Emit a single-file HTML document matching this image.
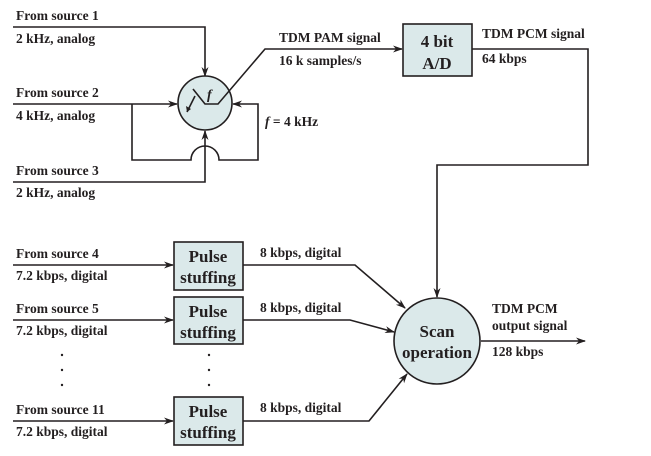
<!DOCTYPE html>
<html><head><style>
body{margin:0;background:#fff;}
svg text{font-family:"Liberation Serif",serif;font-weight:bold;fill:#231f20;}
</style></head><body>
<svg width="651" height="451" viewBox="0 0 651 451" xmlns="http://www.w3.org/2000/svg">
<defs><marker id="a" markerWidth="10" markerHeight="8" refX="9" refY="4" orient="auto" markerUnits="userSpaceOnUse"><path d="M0,0.5 L10,4 L0,7.5 L3,4z" fill="#231f20"/></marker></defs>
<g stroke="#231f20" stroke-width="1.6" fill="none">
<polyline points="13,27 205,27 205,76" marker-end="url(#a)"/>
<polyline points="13,104 177,104" marker-end="url(#a)"/>
<polyline points="13,182 205,182 205,131" marker-end="url(#a)"/>
<path d="M132,104 L132,160 L191,160 A14,14 0 0 1 219,160 L258,160 L258,104 L233,104" marker-end="url(#a)"/>
<circle cx="205" cy="103" r="27" fill="#dbe9ea"/>
<polyline points="193,89 205,104 218,104 265,49 402,49" marker-end="url(#a)"/>
<line x1="195" y1="96" x2="187" y2="112"/>
<rect x="403" y="24" width="69" height="52" fill="#dbe9ea"/>
<polyline points="472,49 588,49 588,165 437,165 437,297" marker-end="url(#a)"/>
<circle cx="437" cy="341" r="43" fill="#dbe9ea"/>
<line x1="481" y1="341" x2="585" y2="341" marker-end="url(#a)"/>
<rect x="174" y="242" width="69" height="48" fill="#dbe9ea"/>
<rect x="174" y="297" width="69" height="47" fill="#dbe9ea"/>
<rect x="174" y="397" width="69" height="48" fill="#dbe9ea"/>
<line x1="13" y1="265" x2="173" y2="265" marker-end="url(#a)"/>
<line x1="13" y1="320" x2="173" y2="320" marker-end="url(#a)"/>
<line x1="13" y1="421" x2="173" y2="421" marker-end="url(#a)"/>
<polyline points="243,265 355,265 405,308" marker-end="url(#a)"/>
<polyline points="243,320 350,320 394,332" marker-end="url(#a)"/>
<polyline points="243,421 369,421 407,374" marker-end="url(#a)"/>
</g>
<path d="M187,112 l-1,-6 l5,3z" fill="#231f20"/>
<text x="207" y="99" font-size="14" font-style="italic">f</text>
<g font-size="13.5">
<text x="16" y="20">From source 1</text>
<text x="16" y="43">2 kHz, analog</text>
<text x="16" y="97">From source 2</text>
<text x="16" y="120">4 kHz, analog</text>
<text x="16" y="175">From source 3</text>
<text x="16" y="197">2 kHz, analog</text>
<text x="279" y="42">TDM PAM signal</text>
<text x="279" y="65">16 k samples/s</text>
<text x="265" y="126"><tspan font-style="italic">f</tspan> = 4 kHz</text>
<text x="482" y="38">TDM PCM signal</text>
<text x="482" y="63">64 kbps</text>
<text x="16" y="258">From source 4</text>
<text x="16" y="280">7.2 kbps, digital</text>
<text x="16" y="313">From source 5</text>
<text x="16" y="335">7.2 kbps, digital</text>
<text x="16" y="414">From source 11</text>
<text x="16" y="436">7.2 kbps, digital</text>
<text x="260" y="257">8 kbps, digital</text>
<text x="260" y="312">8 kbps, digital</text>
<text x="260" y="412">8 kbps, digital</text>
<text x="492" y="313">TDM PCM</text>
<text x="492" y="330">output signal</text>
<text x="492" y="356">128 kbps</text>
</g>
<g font-size="17" text-anchor="middle">
<text x="437" y="47">4 bit</text>
<text x="437" y="69">A/D</text>
<text x="208" y="262">Pulse</text>
<text x="208" y="283">stuffing</text>
<text x="208" y="317">Pulse</text>
<text x="208" y="338">stuffing</text>
<text x="208" y="417">Pulse</text>
<text x="208" y="438">stuffing</text>
<text x="437" y="337">Scan</text>
<text x="437" y="358">operation</text>
</g>
<g fill="#231f20">
<circle cx="62" cy="355" r="1.2"/><circle cx="62" cy="370" r="1.2"/><circle cx="62" cy="385" r="1.2"/>
<circle cx="209" cy="355" r="1.2"/><circle cx="209" cy="370" r="1.2"/><circle cx="209" cy="385" r="1.2"/>
</g>
</svg>
</body></html>
